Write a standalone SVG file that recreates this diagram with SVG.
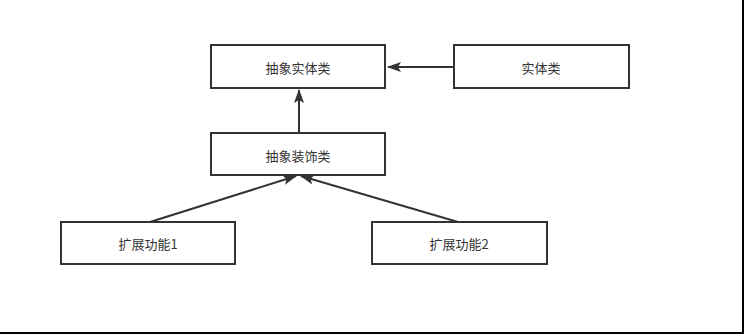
<svg xmlns="http://www.w3.org/2000/svg" width="744" height="334" viewBox="0 0 744 334">
<defs>
<marker id="arr" viewBox="0 0 14 10" refX="13" refY="5" markerWidth="14" markerHeight="10" markerUnits="userSpaceOnUse" orient="auto">
<path d="M0,0 L14,5 L0,10 L3,5 Z" fill="#333"/>
</marker>
</defs>
<style>
.box{fill:#fff;stroke:#333;stroke-width:2}
.lbl{font-family:"Noto Sans CJK SC","Liberation Sans",sans-serif;font-size:13px;fill:#333;text-anchor:middle;dominant-baseline:central}
.edge{stroke:#333;stroke-width:2;fill:none;marker-end:url(#arr)}
</style>
<rect x="0" y="0" width="744" height="334" fill="#fff"/>
<line x1="0" y1="333" x2="744" y2="333" stroke="#000" stroke-width="2"/>
<line x1="743" y1="0" x2="743" y2="334" stroke="#000" stroke-width="2"/>
<g id="connectors">
<line class="edge" x1="454" y1="67" x2="388" y2="67"/>
<line class="edge" x1="299" y1="133" x2="299" y2="90"/>
<line class="edge" x1="150" y1="222" x2="296" y2="176"/>
<line class="edge" x1="458" y1="222" x2="301" y2="176"/>
</g>
<g id="abstract-entity"><rect class="box" x="211" y="45" width="174" height="43"/><text class="lbl" x="298" y="67">抽象实体类</text></g>
<g id="entity"><rect class="box" x="454" y="45" width="175" height="43"/><text class="lbl" x="541" y="67">实体类</text></g>
<g id="abstract-decorator"><rect class="box" x="211" y="133" width="174" height="42"/><text class="lbl" x="298" y="155">抽象装饰类</text></g>
<g id="ext1"><rect class="box" x="61" y="222" width="174" height="42"/><text class="lbl" x="148" y="243">扩展功能1</text></g>
<g id="ext2"><rect class="box" x="372" y="222" width="175" height="42"/><text class="lbl" x="459" y="243">扩展功能2</text></g>
</svg>
